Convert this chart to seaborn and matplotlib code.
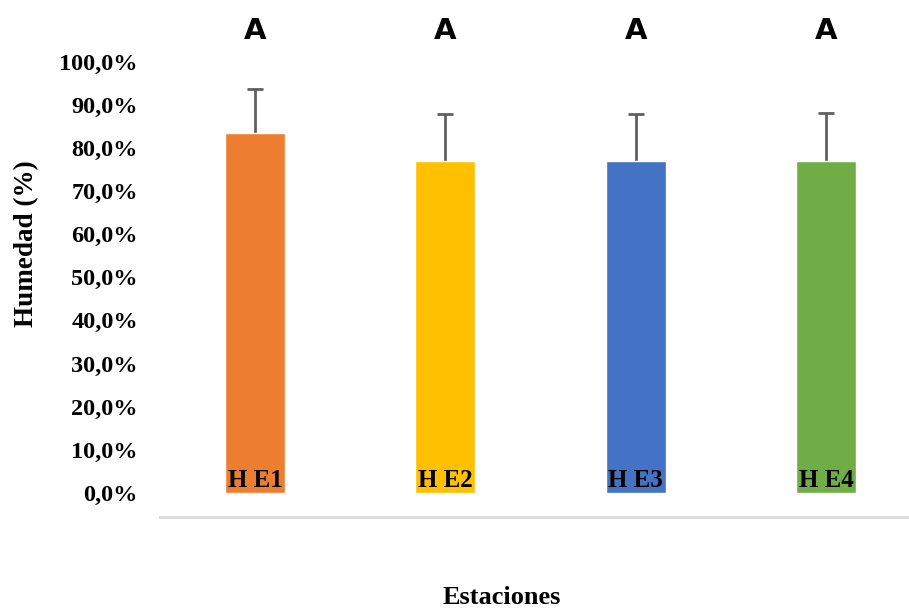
import matplotlib
matplotlib.use("Agg")
import matplotlib.pyplot as plt
import seaborn as sns
import pandas as pd

# Mean relative humidity per station (%) and its upper error
estaciones = ["H E1", "H E2", "H E3", "H E4"]
humedad = [83.5, 77.0, 77.0, 77.0]
error_sup = [10.2, 10.8, 10.8, 11.1]
letras = ["A", "A", "A", "A"]
colores = ["#ED7D31", "#FFC000", "#4472C4", "#70AD47"]
ticks = [0, 10, 20, 30, 40, 50, 60, 70, 80, 90, 100]

sns.set_theme(style="white")
plt.rcParams["font.family"] = ["Liberation Serif", "DejaVu Serif"]
plt.rcParams["text.color"] = "black"
plt.rcParams["ytick.color"] = "black"

df = pd.DataFrame({"Estacion": estaciones, "Humedad": humedad})

fig = plt.figure(figsize=(9.09, 6.10), dpi=100)
ax = fig.add_axes([0.176, 0.1525, 0.823, 0.8475])

sns.barplot(data=df, x="Estacion", y="Humedad", hue="Estacion",
            palette=colores, width=0.315, errorbar=None, legend=False,
            saturation=1, ax=ax, zorder=3)

xpos = list(range(len(estaciones)))
_, caps, _ = ax.errorbar(xpos, humedad, yerr=[[0] * len(humedad), error_sup],
                         fmt="none", ecolor="#606060", elinewidth=2,
                         capsize=6, capthick=2, zorder=2)
# plus-direction error only: hide the cap sitting on the bar top
caps[0].set_visible(False)

# Station names inside the base of each bar
for x, name in zip(xpos, estaciones):
    ax.text(x, 1.3, name, ha="center", va="baseline", fontsize=18,
            fontweight="bold", color="black", zorder=4)

# Significance letters above the bars
for x, letra in zip(xpos, letras):
    ax.text(x, 107.2, letra, ha="center", va="center", fontsize=21,
            fontweight="heavy", family=["DejaVu Sans"], color="black")

ax.set_xlim(-0.499, 3.431)
ax.set_ylim(-5.57, 114.3)
ax.set_yticks(ticks)
ax.set_yticklabels([f"{t:.1f}%".replace(".", ",") for t in ticks],
                   fontsize=17.5, fontweight="bold", color="black")
ax.tick_params(axis="y", length=0, pad=16)
ax.set_xticks([])
ax.set_xlabel("")
ax.set_ylabel("")

for side in ["top", "right", "left"]:
    ax.spines[side].set_visible(False)
ax.spines["bottom"].set_color("#D9D9D9")
ax.spines["bottom"].set_linewidth(2)

fig.text(27 / 909, 1 - 244 / 610, "Humedad (%)", rotation=90, ha="center",
         va="center", fontsize=19.5, fontweight="bold", color="black")
fig.text(502 / 909, 1 - 598 / 610, "Estaciones", ha="center", va="center",
         fontsize=19, fontweight="bold", color="black")

fig.savefig("out.png", dpi=100)
